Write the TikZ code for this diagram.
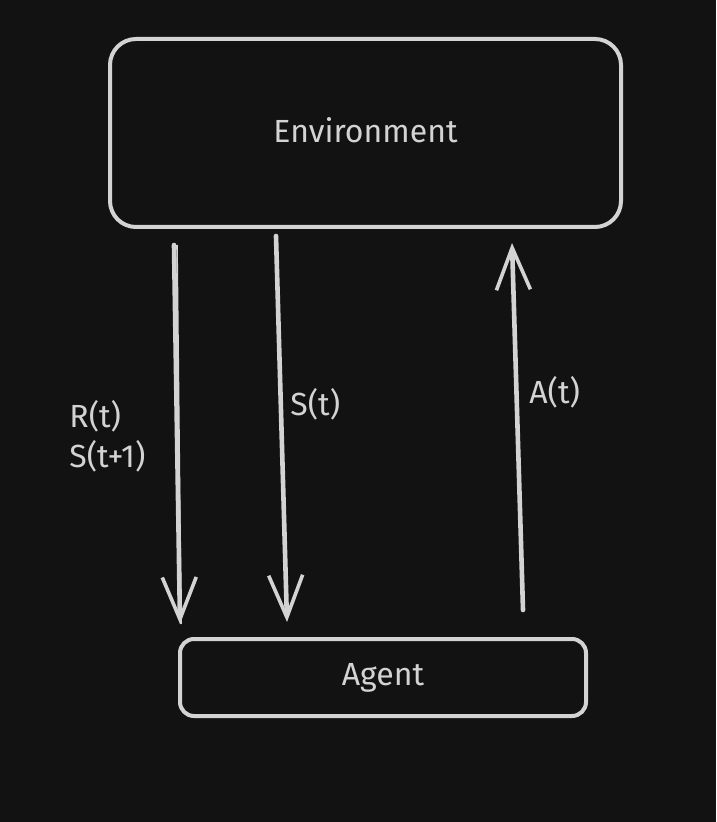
\documentclass[tikz,border=0pt]{standalone}
\usepackage{xcolor}
\usepackage{fontspec}
\setmainfont{Fira Sans}
\usetikzlibrary{arrows.meta}

\definecolor{bgdark}{HTML}{121212}
\definecolor{inkgray}{HTML}{D3D3D3}

\tikzset{
    box/.style={draw=inkgray, line width=2pt, rounded corners=#1, inner sep=0pt},
    flow/.style={draw=inkgray, line width=2.3pt, line cap=round,
        -{Straight Barb[length=21pt, width=17pt, line width=1.8pt]}},
    lbl/.style={text=inkgray, font=\fontsize{16}{20}\selectfont, inner sep=0pt}
}

\begin{document}
\begin{tikzpicture}[x=0.5pt, y=-0.5pt]
        % Background
        \fill[bgdark] (0,0) rectangle (716,822);
        \useasboundingbox (0,0) rectangle (716,822);

        %% Boxes
        \node[box=13pt, minimum width=255.5pt, minimum height=94pt] (env) at (365.5,133) {};
        \node[box=7pt, minimum width=203pt, minimum height=38.5pt] (agent) at (383,677.5) {};

        % Titles
        \node[lbl] at (365.5,130) {Environment};
        \node[lbl] at (agent.center) {Agent};

        % Arrow ends
        \coordinate (r0) at (174,245);
        \coordinate (r1) at (180,624);
        \coordinate (s0) at (276,236);
        \coordinate (s1) at (287,622);
        \coordinate (a0) at (523,610);
        \coordinate (a1) at (512,243);

        % Arrows
        \draw[flow] (r0) -- (r1);
        \draw[draw=inkgray, line width=0.8pt] ([xshift=1.5pt]r0) -- ([xshift=0.5pt]r1);
        \draw[flow] (s0) -- (s1);
        \draw[flow] (a0) -- (a1);

        % Data labels
        \node[lbl, anchor=west] (rt) at (69,416) {R(t)};
        \node[lbl, anchor=west] (st1) at (69,456) {S(t+1)};
        \node[lbl, anchor=west] (st) at (290,404) {S(t)};
        \node[lbl, anchor=west] (at) at (529,392) {A(t)};
    \end{tikzpicture}
\end{document}
